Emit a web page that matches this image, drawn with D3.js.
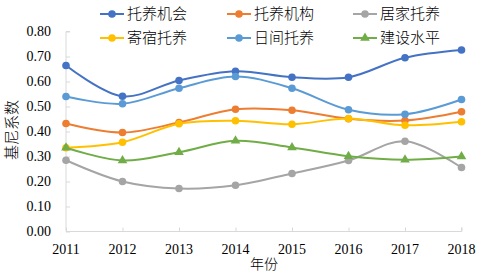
<!DOCTYPE html>
<html>
<head>
<meta charset="utf-8">
<script src="https://cdn.jsdelivr.net/npm/d3@7"></script>
<style>
  body { margin: 0; background: #fff; }
  svg { display: block; }
  .num { font-family: 'Liberation Serif', 'Times New Roman', serif; font-size: 14px; }
  .cjk { font-family: 'Noto Sans CJK SC', sans-serif; font-weight: 300; }
</style>
</head>
<body>
<svg width="481" height="278"></svg>
<script>
const years = [2011, 2012, 2013, 2014, 2015, 2016, 2017, 2018];
const yTicks = [0, 0.1, 0.2, 0.3, 0.4, 0.5, 0.6, 0.7, 0.8];

const tuoyangJihui = [0.664, 0.541, 0.604, 0.641, 0.617, 0.617, 0.695, 0.726];
const tuoyangJigou = [0.432, 0.396, 0.436, 0.489, 0.485, 0.451, 0.444, 0.479];
const jujiaTuoyang = [0.285, 0.200, 0.172, 0.185, 0.232, 0.284, 0.361, 0.256];
const jisuTuoyang = [0.335, 0.357, 0.431, 0.443, 0.429, 0.452, 0.425, 0.439];
const rijianTuoyang = [0.540, 0.511, 0.573, 0.620, 0.573, 0.487, 0.469, 0.528];
const jiansheShuiping = [0.335, 0.284, 0.317, 0.363, 0.336, 0.301, 0.287, 0.300];

const series = [
  { name: '托养机会', values: tuoyangJihui, color: '#4472C4', marker: 'circle' },
  { name: '托养机构', values: tuoyangJigou, color: '#ED7D31', marker: 'circle' },
  { name: '居家托养', values: jujiaTuoyang, color: '#A5A5A5', marker: 'circle' },
  { name: '寄宿托养', values: jisuTuoyang, color: '#FFC000', marker: 'circle' },
  { name: '日间托养', values: rijianTuoyang, color: '#5B9BD5', marker: 'circle' },
  { name: '建设水平', values: jiansheShuiping, color: '#70AD47', marker: 'triangle' }
];

const svg = d3.select('svg');
const axisColor = '#D9D9D9';

const x = d3.scalePoint().domain(years).range([66, 461.5]);
const y = d3.scaleLinear().domain([0, 0.8]).range([231.5, 31.5]);

// y axis, ticks pointing inward
const yAx = svg.append('g').attr('transform', 'translate(66,0)')
  .call(d3.axisRight(y).tickValues(yTicks).tickSize(4).tickFormat(''));
yAx.select('.domain').attr('stroke', axisColor).attr('d', `M4,${y(0.8)}H0V${y(0)}`);
yAx.selectAll('.tick line').attr('stroke', axisColor);

svg.append('g').selectAll('text').data(yTicks).join('text')
  .attr('class', 'num')
  .attr('x', 51).attr('y', d => y(d)).attr('dy', '0.35em')
  .attr('text-anchor', 'end').attr('fill', '#000')
  .text(d => d.toFixed(2));

// x axis
const xAx = svg.append('g').attr('transform', `translate(0,${y(0)})`)
  .call(d3.axisTop(x).tickSize(4).tickFormat(''));
xAx.select('.domain').attr('stroke', axisColor).attr('d', `M${x(2011)},0H${x(2018)}V-4`);
xAx.selectAll('.tick line').attr('stroke', axisColor);

svg.append('g').selectAll('text').data(years).join('text')
  .attr('class', 'num')
  .attr('x', d => x(d)).attr('y', 249).attr('dy', '0.35em')
  .attr('text-anchor', 'middle').attr('fill', '#000')
  .text(d => d);

// axis titles
svg.append('text').attr('class', 'cjk').attr('x', 264).attr('y', 264).attr('dy', '0.35em')
  .attr('text-anchor', 'middle').style('font-size', '14px')
  .text('年份');
svg.append('text').attr('class', 'cjk').attr('transform', 'translate(12,130) rotate(-90)').attr('dy', '0.35em')
  .attr('text-anchor', 'middle').style('font-size', '15px')
  .text('基尼系数');

// smoothed lines
const line = d3.line()
  .x((d, i) => x(years[i]))
  .y(d => y(d))
  .curve(d3.curveCatmullRom.alpha(0.5));

const tri = d3.symbol().type(d3.symbolTriangle).size(40);

function drawMarker(g, s, cx, cy) {
  if (s.marker === 'triangle') {
    g.append('path').attr('d', tri).attr('transform', `translate(${cx},${cy})`).attr('fill', s.color);
  } else {
    g.append('circle').attr('cx', cx).attr('cy', cy).attr('r', 3.8).attr('fill', s.color);
  }
}

series.forEach(s => {
  const g = svg.append('g');
  g.append('path').datum(s.values).attr('d', line)
    .attr('fill', 'none').attr('stroke', s.color).attr('stroke-width', 2);
  s.values.forEach((v, i) => drawMarker(g, s, x(years[i]), y(v)));
});

// legend, 2 rows x 3 cols
const legX = [100, 227, 353];
const legY = [14, 38];
series.forEach((s, i) => {
  const lx = legX[i % 3], ly = legY[Math.floor(i / 3)];
  const g = svg.append('g');
  g.append('line').attr('x1', lx).attr('x2', lx + 24).attr('y1', ly).attr('y2', ly)
    .attr('stroke', s.color).attr('stroke-width', 2);
  drawMarker(g, s, lx + 12, ly);
  g.append('text').attr('class', 'cjk').attr('x', lx + 27).attr('y', ly).attr('dy', '0.35em')
    .style('font-size', '15px').attr('fill', '#000')
    .text(s.name);
});
</script>
</body>
</html>
